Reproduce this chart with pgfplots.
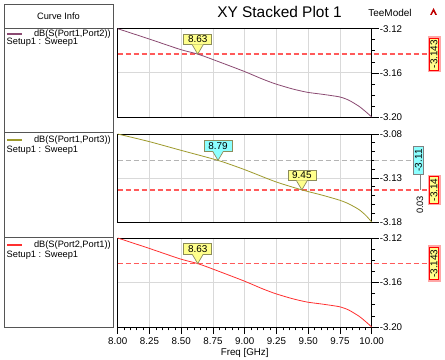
\documentclass[border=0pt]{standalone}
\usepackage{pgfplots}
\pgfplotsset{compat=1.18}
\usepackage{fontspec}
\setmainfont{Liberation Sans}
\definecolor{cpurple}{HTML}{8B4A72}
\definecolor{colive}{HTML}{9E9A2C}
\definecolor{cred}{HTML}{FF3030}
\definecolor{dashred}{HTML}{FF5A5A}
\definecolor{dashgray}{HTML}{B4B4B4}
\definecolor{gridgray}{HTML}{D9D9D9}
\definecolor{boxyellow}{HTML}{FFFF8C}
\definecolor{boxcyan}{HTML}{8CFFFF}
\definecolor{boxedge}{HTML}{8C8C5A}
\definecolor{panel}{HTML}{555555}
\newcommand\tf{\fontsize{9.8}{11}\selectfont}
\newcommand\lf{\fontsize{9.3}{11}\selectfont}
\pgfplotsset{
  hfss/.style={
    scale only axis, width=254bp, xmin=8, xmax=10,
    axis line style={black, line width=0.8bp},
    xtick={8,8.25,8.5,8.75,9,9.25,9.5,9.75,10},
    xmajorgrids, ymajorgrids,
    grid style={gridgray, line width=0.9bp},
    ytick pos=right, yticklabel pos=right,
    tick align=outside,
    major tick length=7bp, minor tick length=3.3bp,
    tick style={black, line width=0.6bp},
    yticklabel style={font=\tf, anchor=west, inner sep=1bp},
    xticklabel style={font=\tf},
    clip=false,
  },
  notopx/.style={xticklabels={}, xtick pos=bottom, x tick style={draw=none}},
  dsh/.style={dash pattern=on 5bp off 3bp, line width=1.4bp, forget plot},
}
\tikzset{
  mbox/.style={draw=boxedge, line width=0.7bp, inner sep=0pt, minimum width=28bp, minimum height=10.5bp, font=\fontsize{10}{11}\selectfont},
  rbox/.style={rotate=90, draw=red, line width=0.6bp, fill=boxyellow, inner xsep=2bp, inner ysep=0.5bp, minimum height=9bp, font=\fontsize{10}{11}\selectfont,
    preaction={draw=red!35, line width=4bp}},
  cbox/.style={rotate=90, draw=gray, line width=0.6bp, fill=boxcyan, inner xsep=3bp, inner ysep=0.5bp, minimum height=10bp, font=\fontsize{10}{11}\selectfont},
}
\newcommand\mk[4]{%
  \node[mbox, fill=#3, anchor=south] at ([yshift=9bp]axis cs:#1,#2) {#4};
  \fill[#3] ([xshift=-5.3bp,yshift=9.6bp]axis cs:#1,#2) -- (axis cs:#1,#2) -- ([xshift=5.3bp,yshift=9.6bp]axis cs:#1,#2) -- cycle;
  \draw[boxedge, line width=0.7bp] ([xshift=-5.3bp,yshift=9bp]axis cs:#1,#2) -- (axis cs:#1,#2) -- ([xshift=5.3bp,yshift=9bp]axis cs:#1,#2);
}
\begin{document}
\begin{tikzpicture}
\path[use as bounding box, fill=white] (0bp,0bp) rectangle (445bp,360bp);
\begin{scope}[x=1bp,y=1bp]
% Curve info panel
\draw[panel, line width=0.8bp] (4,356) rectangle (113,33);
\draw[panel, line width=0.8bp] (4,332) -- (113,332);
\draw[panel, line width=0.8bp] (4,228) -- (113,228);
\draw[panel, line width=0.8bp] (4,122.3) -- (113,122.3);
\node[font=\lf] at (58.5,344) {Curve Info};
\draw[cpurple, line width=1.2bp] (7,326) -- (22,326);
\node[font=\lf, anchor=east, inner sep=0pt] at (111,326) {dB(S(Port1,Port2))};
\node[font=\lf, anchor=west, inner sep=0pt] at (6.5,317.5) {Setup1 : Sweep1};
\draw[colive, line width=1.2bp] (7,220) -- (22,220);
\node[font=\lf, anchor=east, inner sep=0pt] at (111,220) {dB(S(Port1,Port3))};
\node[font=\lf, anchor=west, inner sep=0pt] at (6.5,210) {Setup1 : Sweep1};
\draw[cred, line width=1.2bp] (7,115) -- (22,115);
\node[font=\lf, anchor=east, inner sep=0pt] at (111,115) {dB(S(Port2,Port1))};
\node[font=\lf, anchor=west, inner sep=0pt] at (6.5,105) {Setup1 : Sweep1};
% Titles
\node[font=\fontsize{15.5}{17}\selectfont] at (279.5,348) {XY Stacked Plot 1};
\node[font=\fontsize{10}{11}\selectfont] at (390,347) {TeeModel};
\fill[red!75!black] (430,345) -- (433.5,352) -- (437,345) -- (435.3,345) -- (433.5,348.5) -- (431.7,345) -- cycle;
\end{scope}
% Plot 1
\begin{axis}[hfss, notopx, at={(117.7bp,243bp)}, anchor=south west, height=88.3bp,
  ymin=-3.20, ymax=-3.12, ytick={-3.20,-3.16,-3.12}, yticklabels={-3.20,-3.16,-3.12},
  minor ytick={-3.19,-3.18,-3.17,-3.15,-3.14,-3.13}]
\addplot[dsh, color=dashred] coordinates {(8,-3.143) (10.472,-3.143)};
\addplot[cpurple, line width=0.8bp, smooth, tension=0.4] coordinates {
(8.000,-3.1200) (8.242,-3.1291) (8.492,-3.1388) (8.630,-3.1430) (8.742,-3.1476)
(8.992,-3.1585) (9.137,-3.1655) (9.242,-3.1700) (9.374,-3.1745) (9.492,-3.1776)
(9.610,-3.1794) (9.747,-3.1818) (9.820,-3.1848) (9.900,-3.1903) (9.953,-3.1952) (10.000,-3.2000)};
\node[rbox] at ([xshift=62.3bp]axis cs:10,-3.143) {-3.143};
\mk{8.63}{-3.143}{boxyellow}{8.63}
\end{axis}
% Plot 2
\begin{axis}[hfss, notopx, at={(117.7bp,138bp)}, anchor=south west, height=88bp,
  ymin=-3.18, ymax=-3.08, ytick={-3.18,-3.13,-3.08}, yticklabels={-3.18,-3.13,-3.08},
  minor ytick={-3.17,-3.16,-3.15,-3.14,-3.12,-3.11,-3.10,-3.09}]
\addplot[dsh, color=dashgray] coordinates {(8,-3.11) (10.354,-3.11)};
\addplot[dsh, color=dashred] coordinates {(8,-3.1435) (10.472,-3.1435)};
\addplot[colive, line width=0.8bp, smooth, tension=0.4] coordinates {
(8.000,-3.0800) (8.242,-3.0884) (8.492,-3.0983) (8.790,-3.1100) (8.992,-3.1201)
(9.242,-3.1342) (9.450,-3.1435) (9.610,-3.1495) (9.747,-3.1552) (9.820,-3.1594)
(9.900,-3.1659) (9.953,-3.1724) (10.000,-3.1800)};
\draw[gray, line width=0.8bp] ([xshift=48.3bp,yshift=-13bp]axis cs:10,-3.11) -- ([xshift=48.3bp]axis cs:10,-3.1435);
\node[rotate=90, font=\fontsize{9.3}{10}\selectfont, inner sep=0pt] at ([xshift=48.3bp,yshift=-15bp]axis cs:10,-3.1435) {0.03};
\node[cbox] at ([xshift=46.8bp]axis cs:10,-3.11) {-3.11};
\node[rbox] at ([xshift=62.3bp]axis cs:10,-3.1435) {-3.14};
\mk{8.79}{-3.11}{boxcyan}{8.79}
\mk{9.45}{-3.1435}{boxyellow}{9.45}
\end{axis}
% Plot 3
\begin{axis}[hfss, at={(117.7bp,33bp)}, anchor=south west, height=89bp,
  ymin=-3.20, ymax=-3.12, ytick={-3.20,-3.16,-3.12}, yticklabels={-3.20,-3.16,-3.12},
  minor ytick={-3.19,-3.18,-3.17,-3.15,-3.14,-3.13},
  xtick pos=bottom, minor x tick num=4,
  xticklabels={8.00,8.25,8.50,8.75,9.00,9.25,9.50,9.75,10.00},
  xlabel={Freq [GHz]}, xlabel style={font=\tf, yshift=3bp}]
\addplot[dsh, color=dashred] coordinates {(8,-3.143) (10.472,-3.143)};
\addplot[cred, line width=0.8bp, smooth, tension=0.4] coordinates {
(8.000,-3.1200) (8.242,-3.1291) (8.492,-3.1388) (8.630,-3.1430) (8.742,-3.1476)
(8.992,-3.1585) (9.137,-3.1655) (9.242,-3.1700) (9.374,-3.1745) (9.492,-3.1776)
(9.610,-3.1794) (9.747,-3.1818) (9.820,-3.1848) (9.900,-3.1903) (9.953,-3.1952) (10.000,-3.2000)};
\node[rbox] at ([xshift=62.3bp]axis cs:10,-3.143) {-3.143};
\mk{8.63}{-3.143}{boxyellow}{8.63}
\end{axis}
\end{tikzpicture}
\end{document}
